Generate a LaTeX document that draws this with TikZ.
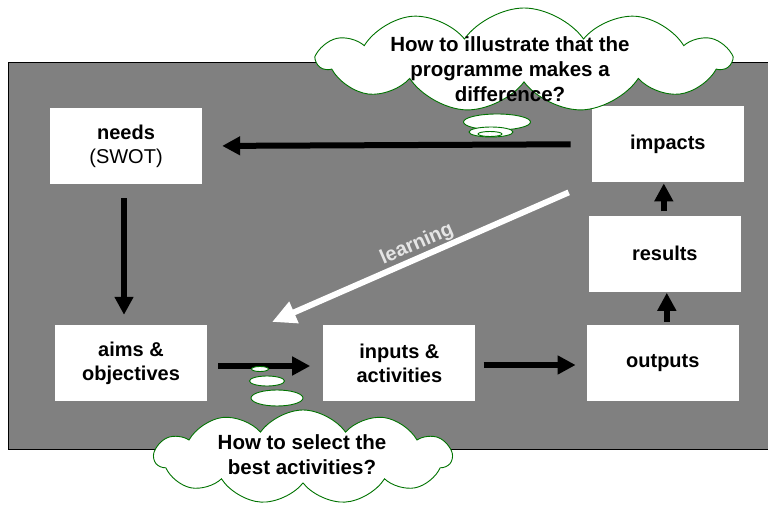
\documentclass[tikz,border=0pt]{standalone}
\usepackage{fontspec}
\setmainfont{Liberation Sans}
\usepackage{xcolor}
\usepackage{tikz}
\usetikzlibrary{arrows.meta,positioning,shapes.geometric,shapes.symbols}

\begin{document}
\begin{tikzpicture}[
  x=1pt, y=-1pt,
  font=\fontsize{20}{24}\selectfont,
  stage/.style={fill=white, align=center, minimum width=152pt, minimum height=76pt, inner sep=0pt, font=\fontsize{20}{24}\selectfont\bfseries},
  flow/.style={line width=6pt, -{Triangle[length=18pt, width=18pt]}},
  learn/.style={line width=6pt, white, -{Triangle[length=24pt, width=22pt]}},
  thought/.style={cloud, cloud puffs=11, cloud puff arc=110, cloud ignores aspect, draw=green!45!black, line width=0.9pt, fill=white, inner sep=0pt},
  bubble/.style={ellipse, draw=green!45!black, line width=0.9pt, fill=white, inner sep=0pt},
  asktext/.style={align=center, font=\fontsize{20.5}{25}\selectfont\bfseries}
]
\useasboundingbox (0,0) rectangle (768,505);

% grey panel behind the cycle
\draw[fill=gray, line width=0.8pt] (8,62) rectangle (772,449);

% the stages
\node[stage] (needs) at (126,146) {needs\\{\mdseries (SWOT)}};
\node[stage] (aims) at (131,363) {aims \&\\objectives};
\node[stage, right=116pt of aims] (inputs) {inputs \&\\activities};
\node[stage, right=111pt of inputs] (outputs) {outputs};
\node[stage, above=33pt of outputs, xshift=2pt] (results) {results};
\node[stage, above=33pt of results, xshift=3pt] (impacts) {impacts};

\draw[flow, shorten <=21pt, shorten >=20pt] (impacts.west) -- (needs.east);
\draw[flow, shorten <=14pt, shorten >=10pt] ([xshift=-2pt]needs.south) -- ([xshift=-2pt]needs.south |- aims.north);
\draw[flow, shorten <=11pt, shorten >=13pt] ([yshift=-3pt]aims.east) -- ([yshift=-3pt]inputs.west);
\draw[flow, shorten <=8pt, shorten >=11pt] ([yshift=-2pt]inputs.east) -- ([yshift=-2pt]outputs.west);
\draw[flow, shorten <=3pt, shorten >=1pt] ([xshift=4pt]outputs.north) -- ([xshift=4pt]outputs.north |- results.south);
\draw[flow, shorten <=4pt, shorten >=1pt] ([xshift=-1pt]results.north) -- ([xshift=-1pt]results.north |- impacts.south);

% feedback
\coordinate (learnend) at (272,322);
\draw[learn, shorten <=25pt] (impacts.south west) -- node[pos=0.53, above=0pt, sloped, inner sep=1pt, text=white!90!black, font=\fontsize{20}{24}\selectfont\bfseries] {learning} (learnend);

% thought bubbles
\node[bubble, minimum width=17pt, minimum height=5pt] (selb1) at (260,369) {};
\node[bubble, minimum width=35pt, minimum height=10pt] (selb2) at (267,381) {};
\node[bubble, minimum width=52pt, minimum height=16pt] (selb3) at (277,398) {};
\node[thought, minimum width=297pt, minimum height=94pt] (selcloud) at (303,457) {};
\node[asktext] (selask) at (302,455) {How to select the\\best activities?};

\node[thought, minimum width=412pt, minimum height=104pt] (diffcloud) at (524,60) {};
\node[bubble, minimum width=67pt, minimum height=16pt] (diffb1) at (497,122) {};
\node[bubble, minimum width=44pt, minimum height=10pt] (diffb2) at (491,132) {};
\node[bubble, minimum width=24pt, minimum height=5pt] (diffb3) at (490,134) {};
\node[asktext] (diffask) at (510,69) {How to illustrate that the\\programme makes a\\difference?};
\end{tikzpicture}
\end{document}
